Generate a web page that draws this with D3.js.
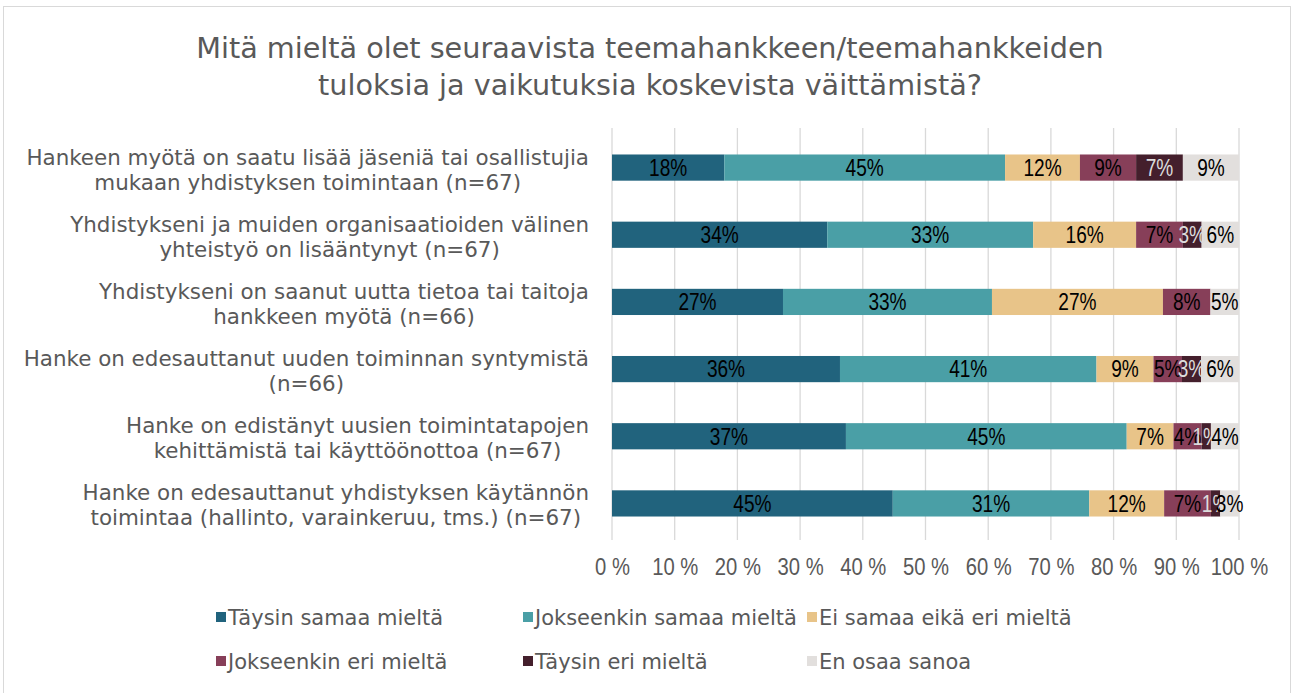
<!DOCTYPE html>
<html><head><meta charset="utf-8">
<script src="https://cdn.jsdelivr.net/npm/d3@7"></script>
<style>body{margin:0;background:#fff}</style>
</head><body><svg id="c" width="1292" height="693"></svg>
<script>
const titleLines = ["Mitä mieltä olet seuraavista teemahankkeen/teemahankkeiden", "tuloksia ja vaikutuksia koskevista väittämistä?"];
const categories = [
  ["Hankeen myötä on saatu lisää jäseniä tai osallistujia", "mukaan yhdistyksen toimintaan (n=67)"],
  ["Yhdistykseni ja muiden organisaatioiden välinen", "yhteistyö on lisääntynyt (n=67)"],
  ["Yhdistykseni on saanut uutta tietoa tai taitoja", "hankkeen myötä (n=66)"],
  ["Hanke on edesauttanut uuden toiminnan syntymistä", "(n=66)"],
  ["Hanke on edistänyt uusien toimintatapojen", "kehittämistä tai käyttöönottoa (n=67)"],
  ["Hanke on edesauttanut yhdistyksen käytännön", "toimintaa (hallinto, varainkeruu, tms.) (n=67)"]
];
const seriesNames = ["Täysin samaa mieltä", "Jokseenkin samaa mieltä", "Ei samaa eikä eri mieltä", "Jokseenkin eri mieltä", "Täysin eri mieltä", "En osaa sanoa"];
const taysinSamaa     = [17.91, 34.33, 27.27, 36.36, 37.31, 44.78];
const jokseenkinSamaa = [44.78, 32.84, 33.33, 40.91, 44.78, 31.34];
const eiSamaaEikaEri  = [11.94, 16.42, 27.27,  9.09,  7.46, 11.94];
const jokseenkinEri   = [ 8.96,  7.46,  7.58,  4.55,  4.48,  7.46];
const taysinEri       = [ 7.46,  2.99,  0,     3.03,  1.49,  1.49];
const enOsaa          = [ 8.96,  5.97,  4.55,  6.06,  4.48,  2.99];
const tickValues = [0,10,20,30,40,50,60,70,80,90,100];
const tickLabels = ["0 %","10 %","20 %","30 %","40 %","50 %","60 %","70 %","80 %","90 %","100 %"];

const colors = ["#21637d", "#4a9fa6", "#e8c489", "#873f59", "#441f2c", "#e2dfdd"];
const labelColors = ["#000", "#000", "#000", "#000", "#dcdcdc", "#000"];
const series = [taysinSamaa, jokseenkinSamaa, eiSamaaEikaEri, jokseenkinEri, taysinEri, enOsaa];

const svg = d3.select("#c");
const TXT = "'DejaVu Sans', Verdana, sans-serif";
const NUM = "'Liberation Sans', Arial, sans-serif";
const GRAY = "#595959";

// fit font size so a text reaches a given width
function fitSize(str, family, target){
  const t = svg.append("text").attr("font-family",family).attr("font-size",20).text(str);
  const w = t.node().getComputedTextLength(); t.remove();
  return 20*target/w;
}

svg.append("rect").attr("x",3.5).attr("y",6.5).attr("width",1287).attr("height",700)
  .attr("fill","#fff").attr("stroke","#d9d9d9");

// title
const titleSize = fitSize(titleLines[0], TXT, 908);
svg.append("g").selectAll("text").data(titleLines).join("text")
  .attr("x", 650).attr("y", (d,i)=> 58 + i*37)
  .attr("text-anchor","middle").attr("font-family",TXT).attr("font-size",titleSize)
  .attr("fill",GRAY).text(d=>d);

const x = d3.scaleLinear().domain([0,100]).range([612,1239]);
const y = d3.scaleBand().domain(d3.range(categories.length)).range([134,537]).paddingInner(0.61).paddingOuter(0.305);

// grid
svg.append("g").selectAll("line").data(tickValues).join("line")
  .attr("x1",d=>x(d)).attr("x2",d=>x(d)).attr("y1",128).attr("y2",540)
  .attr("stroke","#d9d9d9").attr("stroke-width",1.3);

// x axis labels
const xAxis = d3.axisBottom(x).tickValues(tickValues).tickFormat((d,i)=>tickLabels[i]).tickSize(0).tickPadding(0);
const xg = svg.append("g").attr("transform","translate(0,574.5)").call(xAxis);
xg.select(".domain").remove();
xg.selectAll(".tick text").attr("font-family",NUM).attr("font-size",23).attr("fill",GRAY)
  .attr("dy",null).attr("y",0).attr("transform","scale(0.88,1)");

// stacked data
const rows = categories.map((c,i)=>{ const o={i}; series.forEach((s,k)=>o[k]=s[i]); return o; });
const stack = d3.stack().keys(d3.range(series.length))(rows);

const gs = svg.append("g").selectAll("g").data(stack).join("g").attr("fill",(d,k)=>colors[k]);
gs.selectAll("rect").data(d=>d).join("rect")
  .attr("x",d=>x(d[0])).attr("width",d=>x(d[1])-x(d[0]))
  .attr("y",(d,i)=>y(i)).attr("height",y.bandwidth());

// data labels
const lg = svg.append("g").selectAll("g").data(stack).join("g");
lg.each(function(layer,k){
  d3.select(this).selectAll("text").data(layer.filter(d=>d[1]-d[0]>0)).join("text")
    .attr("transform",d=>`translate(${(x(d[0])+x(d[1]))/2},${y(d.data.i)+y.bandwidth()/2+8.3}) scale(0.83,1)`)
    .attr("text-anchor","middle").attr("font-family",NUM)
    .attr("font-size",23).attr("fill",labelColors[k])
    .text(d=>Math.round(d[1]-d[0])+"%");
});

// category labels (block right-aligned, lines centered)
const catSize = fitSize(categories[0][0], TXT, 563);
const cg = svg.append("g");
categories.forEach((lines,i)=>{
  const g = cg.append("g");
  const cy = y(i)+y.bandwidth()/2 + 2;
  const ts = lines.map((t,j)=> g.append("text").attr("y", cy + (j-(lines.length-1)/2)*25 + 7.5)
    .attr("font-family",TXT).attr("font-size",catSize).attr("fill",GRAY).attr("text-anchor","middle").text(t));
  const w = d3.max(ts, t=>t.node().getComputedTextLength());
  ts.forEach(t=>t.attr("x", 589 - w/2));
});

// legend
const legSize = fitSize(seriesNames[1], TXT, 262);
const legPos = [[216,617],[523,617],[807,617],[216,661],[523,661],[807,661]];
const leg = svg.append("g").selectAll("g").data(seriesNames).join("g")
  .attr("transform",(d,i)=>`translate(${legPos[i][0]},${legPos[i][1]})`);
leg.append("rect").attr("x",0).attr("y",-5).attr("width",10).attr("height",10).attr("fill",(d,i)=>colors[i]);
leg.append("text").attr("x",12).attr("y",7.5).attr("font-family",TXT).attr("font-size",legSize).attr("fill",GRAY).text(d=>d);
</script></body></html>
